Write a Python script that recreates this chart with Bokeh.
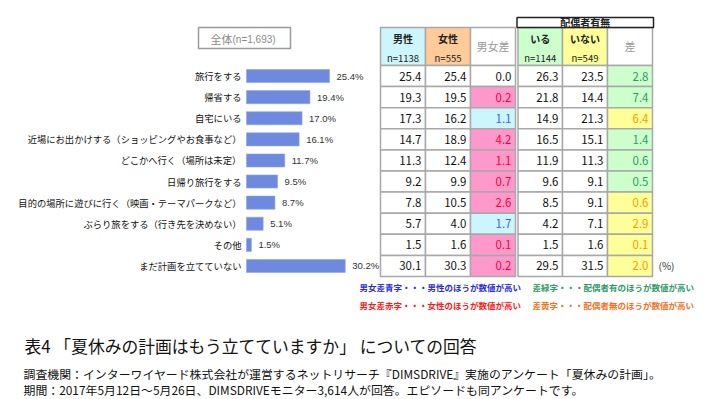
from bokeh.plotting import figure
from bokeh.models import Range1d
from bokeh.core.properties import value
from bokeh.embed import file_html
from bokeh.resources import INLINE

# ---------------- data ----------------
categories = [
    "旅行をする",
    "帰省する",
    "自宅にいる",
    "近場にお出かけする（ショッピングやお食事など）",
    "どこかへ行く（場所は未定）",
    "日帰り旅行をする",
    "目的の場所に遊びに行く（映画・テーマパークなど）",
    "ぶらり旅をする（行き先を決めない）",
    "その他",
    "まだ計画を立てていない",
]
total = [25.4, 19.4, 17.0, 16.1, 11.7, 9.5, 8.7, 5.1, 1.5, 30.2]
male = [25.4, 19.3, 17.3, 14.7, 11.3, 9.2, 7.8, 5.7, 1.5, 30.1]
female = [25.4, 19.5, 16.2, 18.9, 12.4, 9.9, 10.5, 4.0, 1.6, 30.3]
gender_diff = [0.0, 0.2, 1.1, 4.2, 1.1, 0.7, 2.6, 1.7, 0.1, 0.2]
gender_higher = ["", "f", "m", "f", "f", "f", "f", "m", "f", "f"]
married = [26.3, 21.8, 14.9, 16.5, 11.9, 9.6, 8.5, 4.2, 1.5, 29.5]
unmarried = [23.5, 14.4, 21.3, 15.1, 11.3, 9.1, 9.1, 7.1, 1.6, 31.5]
marital_diff = [2.8, 7.4, 6.4, 1.4, 0.6, 0.5, 0.6, 2.9, 0.1, 2.0]
marital_higher = ["yes", "yes", "no", "yes", "yes", "yes", "no", "no", "no", "no"]

total_label = "全体"
total_n = "(n=1,693)"
gender_heads = ["男性", "女性", "男女差"]
gender_ns = ["n=1138", "n=555", ""]
marital_heads = ["いる", "いない", "差"]
marital_ns = ["n=1144", "n=549", ""]
marital_group = "配偶者有無"
legend_gender = ["男女差青字・・・男性のほうが数値が高い", "男女差赤字・・・女性のほうが数値が高い"]
legend_marital = ["差緑字・・・配偶者有のほうが数値が高い", "差黄字・・・配偶者無のほうが数値が高い"]
title = "表4 「夏休みの計画はもう立てていますか」 についての回答"
notes = [
    "調査機関：インターワイヤード株式会社が運営するネットリサーチ『DIMSDRIVE』実施のアンケート「夏休みの計画」。",
    "期間：2017年5月12日～5月26日、DIMSDRIVEモニター3,614人が回答。エピソードも同アンケートです。",
]

# ---------------- styles ----------------
JP = value("Noto Sans CJK JP")
AR = value("Liberation Sans")
BAR = "#6e8ade"
GRID = "#a8a8a8"
CYAN = "#ccf6fb"
PEACH = "#ffcc99"
LGREEN = "#ccffcc"
LYELLOW = "#ffff99"
PINK = "#ff99cc"
RED_T = "#ff0033"
BLUE_T = "#3366ff"
GREEN_T = "#339966"
ORANGE_T = "#ff9900"

W, H = 710, 399
p = figure(width=W, height=H, output_backend="svg", toolbar_location=None,
           x_range=Range1d(0, W), y_range=Range1d(H, 0),
           min_border=0, min_border_left=0, min_border_right=0,
           min_border_top=0, min_border_bottom=0)
p.axis.visible = False
p.grid.visible = False
p.outline_line_color = None
p.background_fill_color = "white"
p.border_fill_color = "white"

# value scale for bars (percent) and row scale
BAR_X0 = 246.0
PX_PER_PCT = 3.27
ROW_TOP = 65.0
ROW_H = 21.1
p.extra_x_ranges = {"pct": Range1d((0 - BAR_X0) / PX_PER_PCT, (W - BAR_X0) / PX_PER_PCT)}
p.extra_y_ranges = {"row": Range1d((H - ROW_TOP) / ROW_H, (0 - ROW_TOP) / ROW_H)}

n = len(categories)
rows = [i + 0.5 for i in range(n)]

# ---- total box ----
p.quad(left=[198], right=[290], top=[27], bottom=[48], fill_color="white",
       line_color="#9a9a9a", line_width=1.5)
p.text(x=[210], y=[38], text=[total_label], text_font=JP, text_font_size="11px",
       text_color="#8a8a8a", text_baseline="middle", text_align="left")
p.text(x=[232], y=[38.5], text=[total_n], text_font=AR, text_font_size="10px",
       text_color="#8a8a8a", text_baseline="middle", text_align="left")

# ---- bars ----
p.hbar(y=rows, left=0, right=total, height=0.62, x_range_name="pct", y_range_name="row",
       fill_color=BAR, line_color="#8fa4e6", line_width=0.6)
p.text(x=total, y=rows, text=[f"{v:.1f}%" for v in total], x_offset=7,
       x_range_name="pct", y_range_name="row", text_font=AR, text_font_size="9.5px",
       text_color="#333333", text_baseline="middle", text_align="left")
p.text(x=[241] * n, y=rows, text=categories, y_range_name="row", text_font=JP,
       text_font_size="9.3px", text_color="#111111", text_baseline="middle", text_align="right")

# ---- tables ----
def table(col_edges, heads, ns, head_fills, cols, diff, diff_fill, diff_color):
    # header cells
    for c in range(3):
        l, r = col_edges[c], col_edges[c + 1]
        p.quad(left=[l], right=[r], top=[27], bottom=[65], fill_color=head_fills[c],
               line_color=GRID, line_width=1.5)
        cx = (l + r) / 2
        if ns[c]:
            p.text(x=[cx], y=[38], text=[heads[c]], text_font=JP, text_font_size="10px",
                   text_font_style="bold", text_color="#222222", text_baseline="middle",
                   text_align="center")
            p.text(x=[cx], y=[57], text=[ns[c]], text_font=JP, text_font_size="9.5px",
                   text_color="#222222", text_baseline="middle", text_align="center")
        else:
            p.text(x=[cx], y=[45], text=[heads[c]], text_font=JP, text_font_size="11px",
                   text_color="#9a9a9a", text_baseline="middle", text_align="center")
    # data cells
    for c in range(3):
        l, r = col_edges[c], col_edges[c + 1]
        fills = diff_fill if c == 2 else ["white"] * n
        p.quad(left=[l] * n, right=[r] * n, top=list(range(n)), bottom=[i + 1 for i in range(n)],
               fill_color=fills, line_color=GRID, line_width=1.5, y_range_name="row")
        vals = diff if c == 2 else cols[c]
        colors = diff_color if c == 2 else ["#111111"] * n
        p.text(x=[r - 4] * n, y=rows, text=[f"{v:.1f}" for v in vals], y_range_name="row",
               text_font=JP, text_font_size="11.5px", text_color=colors,
               text_baseline="middle", text_align="right")

g_fill = [PINK if h == "f" else CYAN if h == "m" else "white" for h in gender_higher]
g_col = [RED_T if h == "f" else BLUE_T if h == "m" else "#111111" for h in gender_higher]
m_fill = [LGREEN if h == "yes" else LYELLOW for h in marital_higher]
m_col = [GREEN_T if h == "yes" else ORANGE_T for h in marital_higher]

table([380, 425, 470, 515], gender_heads, gender_ns, [CYAN, PEACH, "white"],
      [male, female], gender_diff, g_fill, g_col)
table([517.5, 562, 607, 652], marital_heads, marital_ns, [LGREEN, LYELLOW, "white"],
      [married, unmarried], marital_diff, m_fill, m_col)

# group header box
p.quad(left=[516.5], right=[653], top=[17], bottom=[27], fill_color="white",
       line_color="#222222", line_width=1.5)
p.text(x=[584.75], y=[22], text=[marital_group], text_font=JP, text_font_size="10px",
       text_font_style="bold", text_color="#222222", text_baseline="middle", text_align="center")

# (%)
p.text(x=[658], y=[n - 0.5], text=["(%)"], y_range_name="row", text_font=JP,
       text_font_size="10px", text_color="#333333", text_baseline="middle", text_align="left")

# legends
p.text(x=[359, 359], y=[286, 304], text=legend_gender, text_font=JP, text_font_size="8.5px",
       text_font_style="bold", text_color=["#2b2bd6", "#ff1a1a"], text_baseline="middle",
       text_align="left")
p.text(x=[532, 532], y=[286, 304], text=legend_marital, text_font=JP, text_font_size="8.5px",
       text_font_style="bold", text_color=["#33996a", "#f5731f"], text_baseline="middle",
       text_align="left")

# caption and notes
p.text(x=[24], y=[345], text=[title], text_font=JP, text_font_size="16.8px",
       text_color="#111111", text_baseline="middle", text_align="left")
p.text(x=[23, 23], y=[373, 389], text=notes, text_font=JP, text_font_size="11.9px",
       text_color="#111111", text_baseline="middle", text_align="left")

open("out.html", "w").write(file_html(p, INLINE))
